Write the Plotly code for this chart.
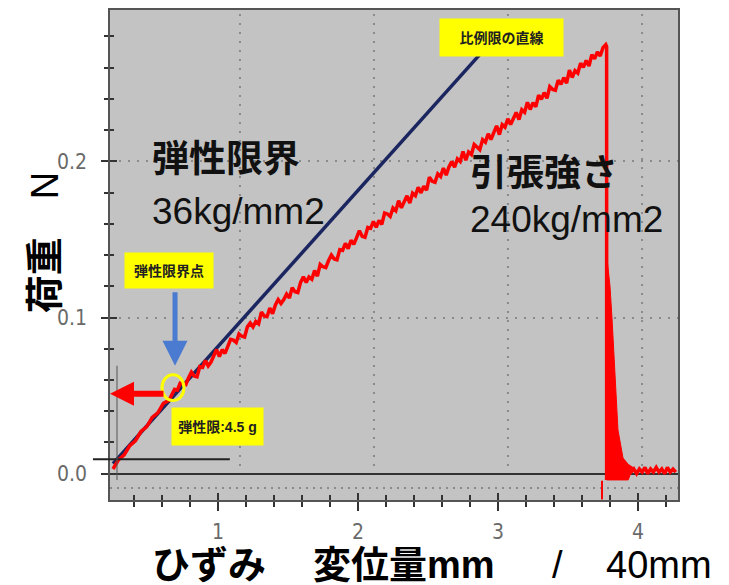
import plotly.graph_objects as go

# ---------------- data ----------------
# measured load curve (red) up to the break
RED_X = [0.25, 0.29, 0.33, 0.37, 0.41, 0.45, 0.49, 0.53, 0.57, 0.61, 0.65,
         0.69, 0.71, 0.73, 0.75, 0.77, 0.79, 0.81, 0.83, 0.85, 0.87, 0.89, 0.91,
         0.93, 0.95, 0.97, 0.99, 1.01, 1.03, 1.05, 1.07, 1.09, 1.11, 1.13, 1.15,
         1.17, 1.19, 1.21, 1.23, 1.25, 1.27, 1.29, 1.31, 1.33, 1.35, 1.37, 1.39,
         1.41, 1.43, 1.45, 1.47, 1.49, 1.51, 1.53, 1.55, 1.57, 1.59, 1.61, 1.63,
         1.65, 1.67, 1.69, 1.71, 1.73, 1.75, 1.77, 1.79, 1.81, 1.83, 1.85, 1.87,
         1.89, 1.91, 1.93,
         1.95, 1.97, 1.99, 2.01, 2.03, 2.05, 2.07, 2.09, 2.11, 2.13, 2.15, 2.17,
         2.19, 2.21, 2.23, 2.25, 2.27, 2.29, 2.31, 2.33, 2.35, 2.37, 2.39, 2.41,
         2.43, 2.45, 2.47, 2.49, 2.51, 2.53, 2.55, 2.57, 2.59, 2.61, 2.63, 2.65,
         2.67, 2.69, 2.71, 2.73, 2.75, 2.77, 2.79, 2.81, 2.83, 2.85, 2.87, 2.89,
         2.91, 2.93, 2.95, 2.97, 2.99, 3.01, 3.03, 3.05, 3.07, 3.09, 3.11, 3.13,
         3.15, 3.17, 3.19, 3.21, 3.23, 3.25, 3.27, 3.29, 3.31, 3.33, 3.35, 3.37,
         3.39, 3.41, 3.43, 3.45, 3.47, 3.49, 3.51, 3.53, 3.55, 3.57, 3.59, 3.61,
         3.63, 3.65, 3.67, 3.69, 3.71, 3.73, 3.75, 3.77, 3.776, 3.776]
RED_Y = [0.003, 0.009, 0.012, 0.018, 0.021, 0.027, 0.030, 0.036, 0.039, 0.045, 0.047,
         0.054, 0.0535, 0.058, 0.0575, 0.057, 0.0615, 0.065, 0.0625, 0.062, 0.0685, 0.068, 0.0725,
         0.069, 0.0715, 0.076, 0.0795, 0.075, 0.0795, 0.077, 0.0815, 0.086, 0.0855, 0.084, 0.0895,
         0.088, 0.0875, 0.094, 0.0965, 0.094, 0.0975, 0.096, 0.1035, 0.101, 0.1005, 0.106, 0.1025,
         0.108, 0.1115, 0.109, 0.1115, 0.115, 0.1125, 0.119, 0.1165, 0.116, 0.1225, 0.126, 0.1225,
         0.126, 0.1245, 0.130, 0.1265, 0.134, 0.1325, 0.132, 0.1365, 0.140, 0.1375, 0.137, 0.1435,
         0.143, 0.1475, 0.144,
         0.1495, 0.1469, 0.1512, 0.1556, 0.1520, 0.1514, 0.1577, 0.1571, 0.1615, 0.1578, 0.1622, 0.1596,
         0.1669, 0.1663, 0.1647, 0.1701, 0.1684, 0.1748, 0.1702, 0.1735, 0.1779, 0.1733, 0.1796, 0.1780,
         0.1834, 0.1798, 0.1841, 0.1815, 0.1899, 0.1872, 0.1866, 0.1920, 0.1903, 0.1957, 0.1911, 0.1965,
         0.1998, 0.1962, 0.2016, 0.1999, 0.2063, 0.2007, 0.2060, 0.2044, 0.2108, 0.2092, 0.2075, 0.2139,
         0.2123, 0.2176, 0.2140, 0.2184, 0.2227, 0.2171, 0.2235, 0.2219, 0.2272, 0.2236, 0.2270, 0.2313,
         0.2267, 0.2331, 0.2314, 0.2378, 0.2332, 0.2376, 0.2349, 0.2423, 0.2397, 0.2440, 0.2404, 0.2478,
         0.2461, 0.2455, 0.2519, 0.2493, 0.2536, 0.2500, 0.2584, 0.2537, 0.2581, 0.2565, 0.2628, 0.2602,
         0.2646, 0.2610, 0.2683, 0.2657, 0.2701, 0.2674, 0.2728, 0.2747, 0.2735, -0.004]

# decay after the break (envelope of the red filled area)
BREAK_X = [3.776, 3.80, 3.814, 3.836, 3.857, 3.893, 3.93, 3.964, 3.93, 3.776]
BREAK_Y = [0.14, 0.12, 0.10, 0.059, 0.028, 0.010, 0.006, 0.004, -0.004, -0.004]

# residual signal after the break
TAIL_X = [3.93, 3.95, 3.97, 3.99, 4.01, 4.03, 4.05, 4.07, 4.09, 4.11, 4.13, 4.15,
          4.17, 4.19, 4.21, 4.23, 4.25, 4.27]
TAIL_Y = [0.004, 0.001, 0.003, 0.000, 0.003, 0.001, 0.004, 0.000, 0.003, 0.001, 0.004, 0.001,
          0.003, 0.000, 0.004, 0.001, 0.003, 0.001]

# cursor mark under the break point
MARK_X = [3.743, 3.743]
MARK_Y = [-0.0045, -0.0165]

# straight line of the proportional limit (blue)
LINE_X = [0.25, 2.89]
LINE_Y = [0.0064, 0.2704]

X_TICKS = [1, 2, 3, 4]
X_TICK_TEXT = ["1", "2", "3", "4"]
Y_TICKS = [0.0, 0.1, 0.2]
Y_TICK_TEXT = ["0.0", "0.1", "0.2"]
GRID_X = [1.157, 2.114, 3.071, 4.029]

X_RANGE = [0.2286, 4.2857]
Y_RANGE = [-0.01685, 0.2969]

# ---------------- figure ----------------
RED = "#ff0000"
NAVY = "#1b2660"
TICKFONT = dict(family="Liberation Sans Narrow, DejaVu Sans Condensed, Roboto Condensed, Roboto, sans-serif",
                size=21, color="#6a6a6a")
CJK = "Liberation Sans, Noto Sans CJK JP, sans-serif"

fig = go.Figure()
fig.add_trace(go.Scatter(x=LINE_X, y=LINE_Y, mode="lines",
                         line=dict(color=NAVY, width=3.5), hoverinfo="skip"))
fig.add_trace(go.Scatter(x=BREAK_X, y=BREAK_Y, mode="lines", fill="toself",
                         fillcolor=RED, line=dict(color=RED, width=1), hoverinfo="skip"))
fig.add_trace(go.Scatter(x=RED_X, y=RED_Y, mode="lines",
                         line=dict(color=RED, width=3.5), hoverinfo="skip"))
fig.add_trace(go.Scatter(x=TAIL_X, y=TAIL_Y, mode="lines",
                         line=dict(color=RED, width=3.5), hoverinfo="skip"))
fig.add_trace(go.Scatter(x=MARK_X, y=MARK_Y, mode="lines",
                         line=dict(color=RED, width=2), hoverinfo="skip"))
# dummy trace to create overlay axes used for the inner tick marks
fig.add_trace(go.Scatter(x=[], y=[], xaxis="x2", yaxis="y2", hoverinfo="skip"))

fig.update_layout(
    width=721, height=577,
    margin=dict(l=102, r=51, t=0, b=85),
    paper_bgcolor="white",
    plot_bgcolor="#c3c3c3",
    showlegend=False,
    xaxis=dict(range=X_RANGE, tickvals=X_TICKS, ticktext=X_TICK_TEXT,
               ticks="outside", ticklen=9, tickwidth=2, tickcolor="#333",
               minor=dict(dtick=0.2, tick0=0, ticks="outside", ticklen=5,
                          tickwidth=1.5, tickcolor="#333", showgrid=False),
               showgrid=False, zeroline=False,
               showline=True, linecolor="#555", linewidth=1.5, mirror=True,
               tickfont=TICKFONT, ticklabelstandoff=3),
    yaxis=dict(range=Y_RANGE, tickvals=Y_TICKS, ticktext=Y_TICK_TEXT,
               ticks="outside", ticklen=7, tickwidth=2, tickcolor="#333",
               minor=dict(dtick=0.02, tick0=0, ticks="outside", ticklen=4,
                          tickwidth=1.5, tickcolor="#333", showgrid=False),
               showgrid=True, gridcolor="#8a8a8a", gridwidth=2, griddash="2px,7px",
               zeroline=True, zerolinecolor="#333", zerolinewidth=2,
               showline=True, linecolor="#555", linewidth=1.5, mirror=True,
               tickfont=TICKFONT, ticklabelstandoff=10),
    xaxis2=dict(range=X_RANGE, overlaying="x", anchor="y2", side="bottom",
                tickvals=X_TICKS, ticks="inside", ticklen=7, tickwidth=2, tickcolor="#333",
                minor=dict(dtick=0.2, tick0=0, ticks="inside", ticklen=5,
                           tickwidth=1.5, tickcolor="#333"),
                showticklabels=False, showgrid=False, zeroline=False, showline=False),
    yaxis2=dict(range=Y_RANGE, overlaying="y", anchor="x2", side="left",
                tickvals=Y_TICKS, ticks="inside", ticklen=7, tickwidth=2, tickcolor="#333",
                minor=dict(dtick=0.02, tick0=0, ticks="inside", ticklen=4,
                           tickwidth=1.5, tickcolor="#333"),
                showticklabels=False, showgrid=False, zeroline=False, showline=False),
)

shapes = []
# vertical dotted grid of the original scale
for gx in GRID_X:
    shapes.append(dict(type="line", xref="x", yref="paper", x0=gx, x1=gx,
                       y0=0.0508, y1=1, line=dict(color="#8a8a8a", width=2, dash="2px,7px"),
                       layer="below"))
# dotted row just above the lower axis
shapes.append(dict(type="line", xref="paper", yref="paper", x0=0, x1=1, y0=0.0244, y1=0.0244,
                   line=dict(color="#8a8a8a", width=2, dash="2px,5px"), layer="below"))
# short black base line and thin vertical line at the start
shapes.append(dict(type="line", xref="paper", yref="paper", x0=-0.030, x1=0.211,
                   y0=0.0833, y1=0.0833, line=dict(color="#222", width=2)))
shapes.append(dict(type="line", xref="paper", yref="paper", x0=0.0123, x1=0.0123,
                   y0=0.0407, y1=0.274, line=dict(color="#555", width=1)))
# yellow circle at the elastic limit point
shapes.append(dict(type="circle", xref="x", yref="y", x0=0.600, x1=0.757,
                   y0=0.0468, y1=0.0634, line=dict(color="#ffff00", width=3)))
fig.update_layout(shapes=shapes)

ann = []
# yellow labels
ann.append(dict(x=3.025, y=0.2794, xref="x", yref="y", text="<b>比例限の直線</b>",
                showarrow=False, bgcolor="#ffff00", width=123, height=37, borderpad=0,
                font=dict(family=CJK, size=14, color="#222")))
ann.append(dict(x=0.650, y=0.1300, xref="x", yref="y", text="<b>弾性限界点</b>",
                showarrow=False, bgcolor="#ffff00", width=88, height=35, borderpad=0,
                font=dict(family=CJK, size=14, color="#222")))
ann.append(dict(x=0.996, y=0.0299, xref="x", yref="y", text="<b>弾性限:4.5 g</b>",
                showarrow=False, bgcolor="#ffff00", width=91, height=37, borderpad=0,
                font=dict(family=CJK, size=14, color="#222")))
# arrows
ann.append(dict(x=0.693, y=0.0691, xref="x", yref="y", text="", showarrow=True,
                ax=0, ay=-75, arrowhead=2, arrowsize=1, arrowwidth=5,
                arrowcolor="#4a7bd0", standoff=0))
ann.append(dict(x=0.2286, y=0.0512, xref="x", yref="y", text="", showarrow=True,
                ax=55, ay=0, arrowhead=2, arrowsize=0.8, arrowwidth=6,
                arrowcolor=RED, standoff=0))
# big labels in the plot
ann.append(dict(x=0.514, y=0.201, xref="x", yref="y", xanchor="left", yanchor="middle",
                text="<b>弾性限界</b>", showarrow=False,
                font=dict(family=CJK, size=37, color="#111")))
ann.append(dict(x=0.514, y=0.168, xref="x", yref="y", xanchor="left", yanchor="middle",
                text="36kg/mm2", showarrow=False,
                font=dict(family=CJK, size=37, color="#111")))
ann.append(dict(x=2.786, y=0.192, xref="x", yref="y", xanchor="left", yanchor="middle",
                text="<b>引張強さ</b>", showarrow=False,
                font=dict(family=CJK, size=37, color="#111")))
ann.append(dict(x=2.786, y=0.163, xref="x", yref="y", xanchor="left", yanchor="middle",
                text="240kg/mm2", showarrow=False,
                font=dict(family=CJK, size=37, color="#111")))
# axis titles
ann.append(dict(x=-0.1144, y=0.524, xref="paper", yref="paper", xanchor="center", yanchor="middle",
                text="<b>荷重</b>　N", textangle=-90, showarrow=False,
                font=dict(family=CJK, size=38, color="#000")))
TY = -0.132
ann.append(dict(x=(150 - 110) / 568, y=TY, xref="paper", yref="paper", xanchor="left",
                yanchor="middle", text="<b>ひずみ</b>", showarrow=False,
                font=dict(family=CJK, size=38, color="#000")))
ann.append(dict(x=(311 - 110) / 568, y=TY, xref="paper", yref="paper", xanchor="left",
                yanchor="middle", text="<b>変位量mm</b>", showarrow=False,
                font=dict(family=CJK, size=38, color="#000")))
ann.append(dict(x=(557 - 110) / 568, y=TY, xref="paper", yref="paper", xanchor="center",
                yanchor="middle", text="/", showarrow=False,
                font=dict(family=CJK, size=38, color="#000")))
ann.append(dict(x=(604 - 110) / 568, y=TY, xref="paper", yref="paper", xanchor="left",
                yanchor="middle", text="40mm", showarrow=False,
                font=dict(family=CJK, size=38, color="#000")))
fig.update_layout(annotations=ann)

fig.write_html("out.html")
